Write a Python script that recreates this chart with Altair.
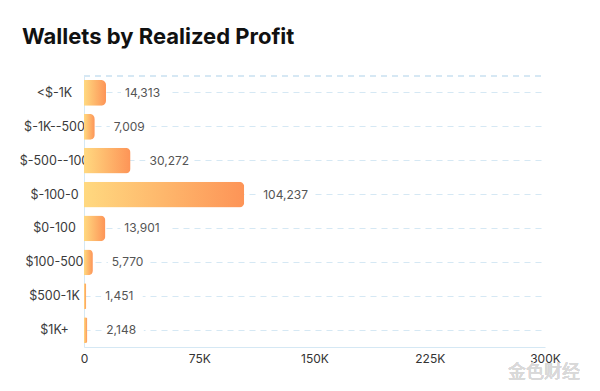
import altair as alt
import pandas as pd

categories = ["<$-1K", "$-1K--500", "$-500--100", "$-100-0", "$0-100", "$100-500", "$500-1K", "$1K+"]
wallets = [14313, 7009, 30272, 104237, 13901, 5770, 1451, 2148]
x_ticks = [0, 75000, 150000, 225000, 300000]

df = pd.DataFrame({"cat": categories, "value": wallets})

FONT = "Inter"
GRID = "#d5e8f4"
W, H = 461, 271
XMAX = 300000
PX = XMAX / W  # data units per pixel

y_enc = alt.Y("cat:N", sort=categories, title=None,
              scale=alt.Scale(paddingInner=0.24, paddingOuter=0.12),
              axis=alt.Axis(labelAlign="center", labelPadding=30, ticks=False,
                            labelFont=FONT, labelFontSize=12.5, labelColor="#3a3a3a",
                            domainColor=GRID, grid=True, gridColor=GRID,
                            gridDash=[6, 5], gridWidth=1.2))
x_enc = alt.X("value:Q", title=None,
              scale=alt.Scale(domain=[0, XMAX], nice=False),
              axis=alt.Axis(values=x_ticks, grid=False, ticks=False, labelFlush=False,
                            labelExpr="datum.value == 0 ? '0' : (datum.value/1000) + 'K'",
                            labelFont=FONT, labelFontSize=12, labelColor="#333",
                            labelPadding=6, domainColor=GRID, domainWidth=1.2))

grad = alt.Gradient(gradient="linear",
                    stops=[alt.GradientStop(color="#ffd980", offset=0),
                           alt.GradientStop(color="#fd9457", offset=1)],
                    x1=0, x2=1, y1=0, y2=0)

bars = alt.Chart(df).mark_bar(color=grad, cornerRadiusEnd=5).encode(x=x_enc, y=y_enc)

bg = alt.Chart(df).transform_calculate(
    xs=f"datum.value + 15 * {PX}",
    xe=f"datum.value + (19 + length(format(datum.value, ',')) * 6.9 + 3) * {PX}",
).mark_rect(color="white", height=8).encode(
    x=alt.X("xs:Q", scale=alt.Scale(domain=[0, XMAX], nice=False)),
    x2="xe:Q",
    y=alt.Y("cat:N", sort=categories),
)

labels = alt.Chart(df).mark_text(align="left", baseline="middle", dx=19,
                                 font=FONT, fontSize=12, color="#555").encode(
    x="value:Q", y=alt.Y("cat:N", sort=categories),
    text=alt.Text("value:Q", format=","))

top_rule = alt.Chart(df).mark_rule(color=GRID, strokeDash=[6, 5], strokeWidth=1.2).encode(
    x=alt.value(0), x2=alt.value(W), y=alt.value(0))

watermark = alt.Chart(df).mark_text(align="left", baseline="middle", font="Noto Sans CJK SC",
                                    fontSize=18, color="#d9d9d9").encode(
    x=alt.value(424), y=alt.value(297), text=alt.value("金色财经"))

chart = alt.layer(top_rule, bars, bg, labels, watermark).properties(
    width=W, height=H,
    autosize=alt.AutoSizeParams(type="none"),
    padding={"left": 76, "top": 68, "right": 47, "bottom": 42},
    title=alt.TitleParams("Wallets by Realized Profit", anchor="start", frame="group",
                          dx=-62, offset=26, font=FONT, fontSize=22, fontWeight="bold",
                          color="#111"),
).configure_view(stroke=None)

chart.save("out.html", embed_options={"renderer": "svg", "actions": False})
